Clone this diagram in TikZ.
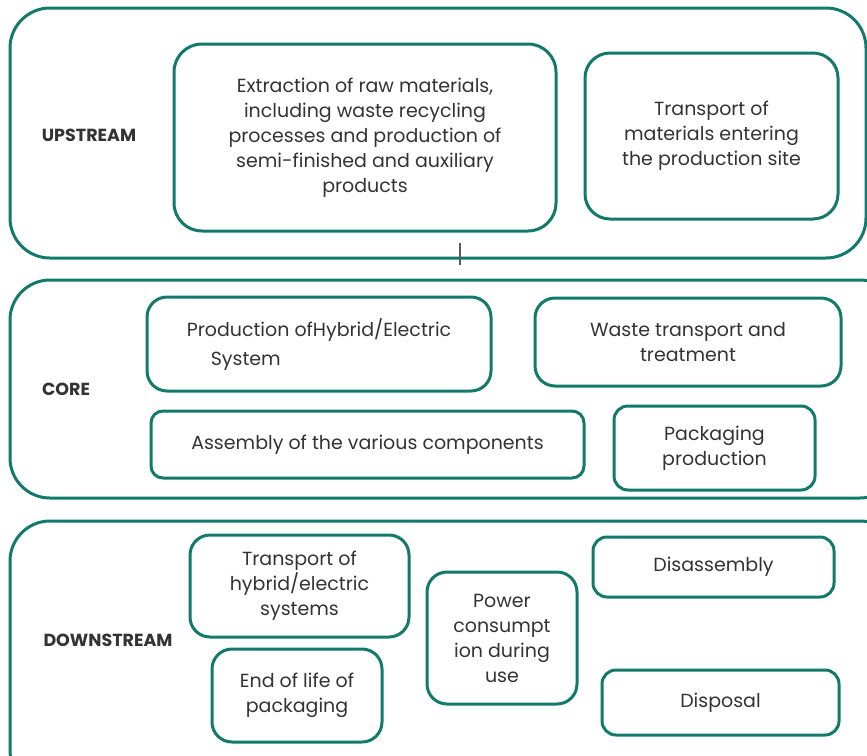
\documentclass[tikz,border=0pt]{standalone}
\usepackage{fontspec}
\setmainfont{Poppins}
\definecolor{teal}{HTML}{117A6B}
\definecolor{txt}{HTML}{333333}
\begin{document}
\begin{tikzpicture}[x=1pt,y=-1pt,
  container/.style={draw=teal,line width=3pt,rounded corners=40pt,inner sep=0pt},
  box/.style={draw=teal,line width=3pt,rounded corners=20pt,inner sep=2pt,align=center,text=txt,font=\fontsize{19}{25}\selectfont},
  lab/.style={font=\bfseries\fontsize{17.5}{20}\selectfont,text=txt}]
\useasboundingbox (0,0) rectangle (867,755);
\clip (0,0) rectangle (867,755);
% containers
\node[container,minimum width=856pt,minimum height=250pt] (up) at (438,133) {};
\node[container,minimum width=890pt,minimum height=218pt] (core) at (455,389) {};
\node[container,minimum width=890pt,minimum height=269pt] (down) at (455,655.5) {};
% labels
\node[lab] (lup) at (89,135) {UPSTREAM};
\node[lab] (lcore) at (66,389) {CORE};
\node[lab] (ldown) at (108,640) {DOWNSTREAM};
% upstream
\node[box,rounded corners=28pt,minimum width=382pt,minimum height=187pt] (extr) at (365,137.5)
  {Extraction of raw materials,\\including waste recycling\\processes and production of\\semi-finished and auxiliary\\products};
\node[box,rounded corners=25pt,minimum width=253pt,minimum height=166pt] (trans) at (711.5,136)
  {Transport of\\materials entering\\the production site};
% tick
\coordinate (t1) at (460,243);
\coordinate (t2) at (460,265);
\draw[gray!70!black,line width=1.2pt] (t1) -- (t2);
% core
\node[box,minimum width=344pt,minimum height=94pt,align=left] (prod) at (319,344)
  {Production ofHybrid/Electric\\[4pt]\hspace*{24pt}System};
\node[box,minimum width=306pt,minimum height=88pt] (waste) at (688,342)
  {Waste transport and\\treatment};
\node[box,rounded corners=12pt,minimum width=433pt,minimum height=67pt] (asm) at (367.5,444.5)
  {Assembly of the various components};
\node[box,rounded corners=14pt,minimum width=201pt,minimum height=84pt] (pack) at (714.5,448)
  {Packaging\\production};
% downstream
\node[box,minimum width=219pt,minimum height=102pt] (thyb) at (299.5,586)
  {Transport of\\hybrid/electric\\systems};
\node[box,minimum width=170pt,minimum height=93pt] (eol) at (297,695.5)
  {End of life of\\packaging};
\node[box,minimum width=150pt,minimum height=132pt] (pow) at (502,638)
  {Power\\consumpt\\ion during\\use};
\node[box,rounded corners=14pt,minimum width=241pt,minimum height=60pt] (dis) at (713.5,567)
  {Disassembly};
\node[box,rounded corners=14pt,minimum width=237pt,minimum height=65pt] (disp) at (720.5,702.5)
  {Disposal};
\end{tikzpicture}
\end{document}
